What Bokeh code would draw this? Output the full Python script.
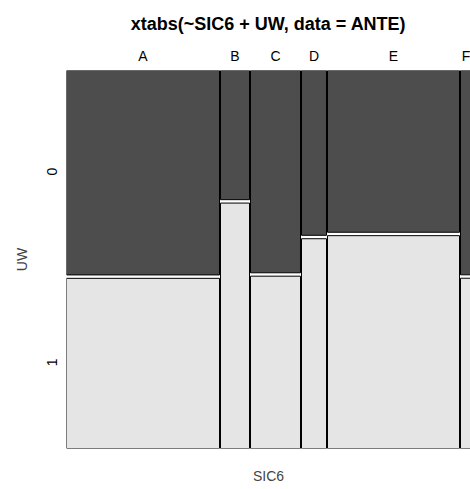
import math
from bokeh.plotting import figure
from bokeh.models import Range1d, LinearAxis, FixedTicker
from bokeh.embed import file_html
from bokeh.resources import INLINE

# ---- data (counts read from the mosaic) ----
sic6 = ["A", "B", "C", "D", "E", "F"]
uw_levels = ["0", "1"]
uw0 = [167, 20, 54, 22, 114, 12]
uw1 = [139, 38, 46, 28, 150, 10]

DARK = "#4d4d4d"
LIGHT = "#e5e5e5"
FONT = "Liberation Sans"

totals = [a + b for a, b in zip(uw0, uw1)]
xgap = 2.0          # horizontal spacing in count units
ygap = 0.009        # vertical spacing as fraction

lefts, rights = [], []
x = 0.0
for t in totals:
    lefts.append(x)
    rights.append(x + t)
    x += t + xgap
x_end = rights[-1] - 2

p = figure(width=470, height=489, output_backend="svg", toolbar_location=None,
           x_range=Range1d(0, x_end), y_range=Range1d(0, 1),
           min_border_left=66, min_border_right=0, min_border_top=70,
           min_border_bottom=41, x_axis_type=None, y_axis_type=None,
           title="xtabs(~SIC6 + UW, data = ANTE)")
p.background_fill_color = "white"
p.border_fill_color = "white"
p.outline_line_color = None
p.grid.visible = False

# tiles
l_bot, r_bot, t_bot = [], [], []
l_top, r_top, b_top = [], [], []
for i in range(len(sic6)):
    f1 = uw1[i] / totals[i]
    l_bot.append(lefts[i]); r_bot.append(rights[i]); t_bot.append(f1 * (1 - ygap))
    l_top.append(lefts[i]); r_top.append(rights[i]); b_top.append(f1 * (1 - ygap) + ygap)

p.quad(left=l_bot, right=r_bot, bottom=0, top=t_bot, fill_color=LIGHT,
       line_color="black", line_width=1)
p.quad(left=l_top, right=r_top, bottom=b_top, top=1, fill_color=DARK,
       line_color="black", line_width=1)

# top axis with category labels
centers = [(a + b) / 2 for a, b in zip(lefts, rights)]
top_ax = LinearAxis(ticker=FixedTicker(ticks=centers),
                    major_label_overrides={c: s for c, s in zip(centers, sic6)})
top_ax.axis_line_color = None
top_ax.major_tick_line_color = None
top_ax.minor_tick_line_color = None
top_ax.major_label_standoff = 1
top_ax.major_label_text_font = FONT
top_ax.major_label_text_font_size = "14px"
top_ax.major_label_text_color = "black"
p.add_layout(top_ax, "above")

# left axis with UW labels (placed at centres of first column)
lab_shift = 0.013   # visual centring of rotated labels
y1c = t_bot[0] / 2 + lab_shift
y0c = (b_top[0] + 1) / 2 + lab_shift
left_ax = LinearAxis(ticker=FixedTicker(ticks=[y0c, y1c]),
                     major_label_overrides={y0c: uw_levels[0], y1c: uw_levels[1]},
                     axis_label="UW")
left_ax.axis_line_color = None
left_ax.major_tick_line_color = None
left_ax.minor_tick_line_color = None
left_ax.major_label_orientation = math.pi / 2
left_ax.major_label_standoff = 8
left_ax.major_label_text_font = FONT
left_ax.major_label_text_font_size = "14px"
left_ax.major_label_text_color = "black"
left_ax.axis_label_text_font = FONT
left_ax.axis_label_text_font_size = "14px"
left_ax.axis_label_text_font_style = "normal"
left_ax.axis_label_standoff = 10
p.add_layout(left_ax, "left")

# bottom axis for the SIC6 label
bot_ax = LinearAxis(ticker=FixedTicker(ticks=[]), axis_label="SIC6")
bot_ax.axis_line_color = None
bot_ax.major_tick_line_color = None
bot_ax.minor_tick_line_color = None
bot_ax.axis_label_text_font = FONT
bot_ax.axis_label_text_font_size = "14px"
bot_ax.axis_label_text_font_style = "normal"
bot_ax.axis_label_standoff = 19
p.add_layout(bot_ax, "below")

p.title.align = "center"
p.title.text_font = FONT
p.title.text_font_size = "18px"
p.title.text_font_style = "bold"
p.title.text_color = "black"
p.title.standoff = 22

open("out.html", "w").write(file_html(p, INLINE))
